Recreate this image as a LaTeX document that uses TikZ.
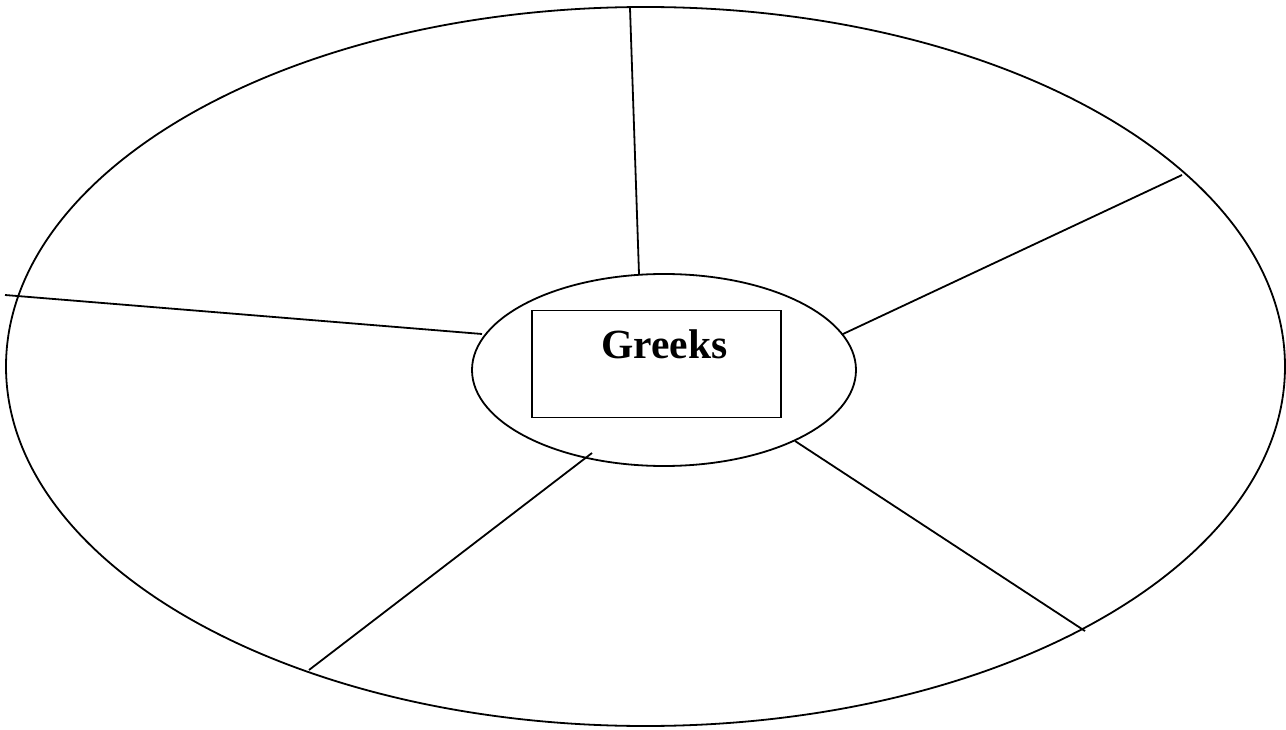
\documentclass[tikz,border=0pt]{standalone}
\usepackage{fontspec}
\setmainfont{Liberation Serif}
\usetikzlibrary{shapes.geometric}

\tikzset{
  outline/.style={draw=black, line width=1.8pt},
  oval/.style={outline, ellipse, inner sep=0pt},
  titlebox/.style={outline, rectangle, inner sep=0pt},
  spoke/.style={draw=black, line width=1.8pt},
  titletext/.style={font=\fontsize{41.5}{46}\selectfont\bfseries, inner sep=0pt}
}

\begin{document}
\begin{tikzpicture}[x=1pt, y=-1pt]
  \useasboundingbox (0,0) rectangle (1286,730);

  % outer ring and the central oval
  \node[oval, minimum width=1279pt, minimum height=719pt] (outer) at (645.5,366.5) {};
  \node[oval, minimum width=384pt, minimum height=192pt] (inner) at (664,370) {};

  % title box and its caption
  \node[titlebox, minimum width=249pt, minimum height=107pt] (box) at (656.5,364) {};
  \node[titletext, anchor=base] (title) at (664.5,358.5) {Greeks};

  % spoke end points
  \coordinate (lOut) at (5,295);
  \coordinate (lIn)  at (482,334);
  \coordinate (tOut) at (630,8);
  \coordinate (tIn)  at (639,274);
  \coordinate (urOut) at (1182,175);
  \coordinate (urIn)  at (843,334);
  \coordinate (lrOut) at (1085,631);
  \coordinate (lrIn)  at (795,441);
  \coordinate (blOut) at (309,670);
  \coordinate (blIn)  at (592,453);

  % spokes dividing the ring
  \draw[spoke] (lIn) -- (lOut);
  \draw[spoke] (tIn) -- (tOut);
  \draw[spoke] (urIn) -- (urOut);
  \draw[spoke] (lrIn) -- (lrOut);
  \draw[spoke] (blIn) -- (blOut);
\end{tikzpicture}
\end{document}
